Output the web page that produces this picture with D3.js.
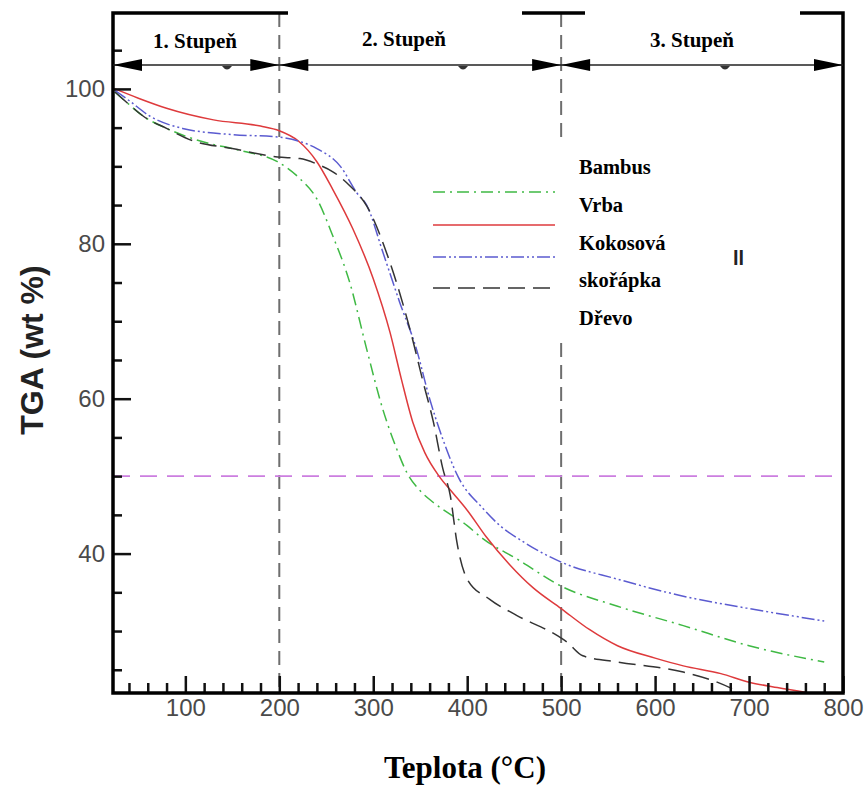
<!DOCTYPE html>
<html>
<head>
<meta charset="utf-8">
<script src="https://cdn.jsdelivr.net/npm/d3@7"></script>
<style>
  body { margin: 0; background: #fff; }
  svg { display: block; }
</style>
</head>
<body>
<svg id="tga" width="867" height="787"></svg>
<script>
// temperature (°C), mass (wt %)
const bambus = [[25,99.6],[40,98],[55,96.5],[80,94.9],[115,93.3],[160,92],[198,90.6],[222,88.4],[240,85.8],[257,81],[275,75],[293,66.4],[310,58.7],[325,53.5],[336,50.4],[350,48.1],[364,46.6],[400,43.6],[417,41.9],[453,39.3],[500,35.8],[560,33.2],[630,30.7],[700,28.1],[780,26.0]];
const vrba = [[25,100],[50,98.8],[80,97.5],[130,96],[180,95.2],[200,94.6],[220,93.3],[240,90.6],[257,87],[278,82],[300,75.5],[318,68.5],[330,62.5],[342,57],[355,53],[370,50],[385,47.8],[400,45.6],[420,42.2],[445,38.6],[470,35.6],[500,32.9],[530,30.2],[560,28.1],[600,26.5],[630,25.5],[670,24.5],[700,23.4],[730,22.7],[760,22.1]];
const kokos = [[25,99.8],[40,98.5],[62,96.5],[97,94.9],[150,94.1],[198,93.8],[222,93.2],[240,92.3],[265,90],[283,86.5],[293,85],[310,79],[328,72.5],[346,66.4],[360,60],[374,54.8],[390,50],[417,45.8],[435,43.6],[460,41.5],[500,38.9],[560,36.7],[630,34.5],[700,32.9],[780,31.3]];
const drevo = [[25,99.6],[40,98],[55,96.5],[80,94.9],[108,93.3],[150,92.3],[198,91.2],[222,91],[240,90.3],[257,89.3],[275,87.5],[293,84.9],[318,77.5],[339,69],[353,62.2],[364,57],[374,51],[382,47.5],[389,41.5],[400,36.7],[424,34.1],[453,32],[496,29.4],[506,28.6],[523,26.8],[560,26],[630,24.7],[666,23.4],[690,22.1]];

const xTicks = [100, 200, 300, 400, 500, 600, 700, 800];
const yTicks = [40, 60, 80, 100];
const stageNames = ["1. Stupeň", "2. Stupeň", "3. Stupeň"];
const stageBounds = [23, 200, 500, 800];
const legendNames = ["Bambus", "Vrba", "Kokosová", "skořápka", "Dřevo"];
const halfMass = 50;

var svg = d3.select("svg#tga");

var x = d3.scaleLinear().domain([23, 800]).range([113, 843]),
    y = d3.scaleLinear().domain([22, 109.8]).range([693, 13]);

const series = [
  {data: bambus, color: "#3fb944", dash: "12,5,2,5"},
  {data: vrba, color: "#de3a3c", dash: null},
  {data: kokos, color: "#5b5bd0", dash: "13,3,2,3,2,3"},
  {data: drevo, color: "#333333", dash: "17,8"}
];

svg.append("defs").append("clipPath").attr("id", "plot")
  .append("rect")
  .attr("x", x(23)).attr("y", y(109.8))
  .attr("width", x(800) - x(23)).attr("height", y(22) - y(109.8));

// stage separators
svg.selectAll(".vsep")
  .data(stageBounds.slice(1, 3))
  .enter().append("line")
  .attr("x1", d => x(d)).attr("x2", d => x(d))
  .attr("y1", y(109.8)).attr("y2", y(22))
  .attr("stroke", "#6e6e6e").attr("stroke-width", 2)
  .attr("stroke-dasharray", "14,8");

// 50 % line
svg.append("line")
  .attr("x1", x(23)).attr("x2", x(800))
  .attr("y1", y(halfMass)).attr("y2", y(halfMass))
  .attr("stroke", "#cc7ee0").attr("stroke-width", 1.6)
  .attr("stroke-dasharray", "17,10");

var line = d3.line()
  .curve(d3.curveMonotoneX)
  .x(d => x(d[0]))
  .y(d => y(d[1]));

svg.append("g").attr("clip-path", "url(#plot)")
  .selectAll(".curve")
  .data(series)
  .enter().append("path")
  .attr("class", "curve")
  .attr("fill", "none")
  .attr("stroke", d => d.color)
  .attr("stroke-width", 1.5)
  .attr("stroke-dasharray", d => d.dash)
  .attr("d", d => line(d.data));

// axes with inward ticks
var yAxis = svg.append("g")
  .attr("transform", "translate(" + x(23) + ",0)")
  .call(d3.axisLeft(y).tickValues(yTicks).tickSize(-18).tickPadding(8));
svg.append("g")
  .attr("transform", "translate(" + x(23) + ",0)")
  .call(d3.axisLeft(y).tickValues(d3.range(25, 106, 5).filter(v => v % 20 != 0)).tickSize(-9).tickFormat(""));

var xAxis = svg.append("g")
  .attr("transform", "translate(0," + y(22) + ")")
  .call(d3.axisBottom(x).tickValues(xTicks).tickSize(-17).tickPadding(6));
svg.append("g")
  .attr("transform", "translate(0," + y(22) + ")")
  .call(d3.axisBottom(x).tickValues(d3.range(40, 800, 20).filter(v => v % 100 != 0)).tickSize(-10).tickFormat(""));

svg.selectAll(".domain").remove();
svg.selectAll(".tick line").attr("stroke", "#111").attr("stroke-width", 2.5);
svg.selectAll(".tick text")
  .style("font-family", "Liberation Sans, Arial, sans-serif")
  .style("font-size", "24px")
  .attr("fill", "#4a4a4a");

// frame
svg.append("rect")
  .attr("x", x(23)).attr("y", y(109.8))
  .attr("width", x(800) - x(23)).attr("height", y(22) - y(109.8))
  .attr("fill", "none").attr("stroke", "#000").attr("stroke-width", 3.5);

// white boxes behind stage labels 2 and 3
svg.append("rect").attr("x", 288).attr("y", 8).attr("width", 234).attr("height", 50).attr("fill", "#fff");
svg.append("rect").attr("x", 585).attr("y", 8).attr("width", 215).attr("height", 50).attr("fill", "#fff");

// stage arrows
var arrowY = 65;
var stages = svg.append("g");
stageNames.forEach(function(name, i) {
  var a = x(stageBounds[i]), b = x(stageBounds[i + 1]);
  stages.append("line")
    .attr("x1", a).attr("x2", b).attr("y1", arrowY).attr("y2", arrowY)
    .attr("stroke", "#222").attr("stroke-width", 1.5);
  stages.append("path")
    .attr("d", "M" + a + "," + arrowY + "L" + (a + 29) + "," + (arrowY - 6) + "L" + (a + 29) + "," + (arrowY + 6) + "Z")
    .attr("fill", "#000");
  stages.append("path")
    .attr("d", "M" + b + "," + arrowY + "L" + (b - 29) + "," + (arrowY - 6) + "L" + (b - 29) + "," + (arrowY + 6) + "Z")
    .attr("fill", "#000");
  // small leftover mark under the arrow
  var m = [227, 463, 725][i];
  stages.append("path")
    .attr("d", "M" + (m - 5) + "," + (arrowY + 1) + "Q" + m + "," + (arrowY + 8) + " " + (m + 5) + "," + (arrowY + 1) + "Z")
    .attr("fill", "#333");
  stages.append("text")
    .attr("x", [195, 404, 692][i]).attr("y", [48, 46, 47][i])
    .attr("text-anchor", "middle")
    .style("font", "bold 21px 'Liberation Serif', 'Times New Roman', serif")
    .text(name);
});

// legend
svg.append("rect").attr("x", 557).attr("y", 140).attr("width", 190).attr("height", 195).attr("fill", "#fff");
var legendY = [192, 225, 257, 288];
svg.selectAll(".legline")
  .data(series)
  .enter().append("line")
  .attr("x1", 433).attr("x2", 555)
  .attr("y1", (d, i) => legendY[i]).attr("y2", (d, i) => legendY[i])
  .attr("stroke", d => d.color).attr("stroke-width", 1.5)
  .attr("stroke-dasharray", d => d.dash);
svg.selectAll(".legtext")
  .data(legendNames)
  .enter().append("text")
  .attr("x", 579)
  .attr("y", (d, i) => 174 + i * 37.8)
  .style("font", "bold 20.5px 'Liberation Serif', 'Times New Roman', serif")
  .text(d => d);
svg.append("text")
  .attr("x", 733).attr("y", 265)
  .style("font", "bold 20px 'Liberation Sans', Arial, sans-serif")
  .attr("fill", "#222")
  .text("ll");

// axis titles
svg.append("text")
  .attr("transform", "translate(43," + 350 + ") rotate(-90)")
  .attr("text-anchor", "middle")
  .style("font", "bold 32px 'Liberation Sans', Arial, sans-serif")
  .attr("fill", "#222")
  .text("TGA  (wt %)");

svg.append("text")
  .attr("x", 465).attr("y", 778)
  .attr("text-anchor", "middle")
  .style("font", "bold 31px 'Liberation Serif', 'Times New Roman', serif")
  .text("Teplota (°C)");
</script>
</body>
</html>
